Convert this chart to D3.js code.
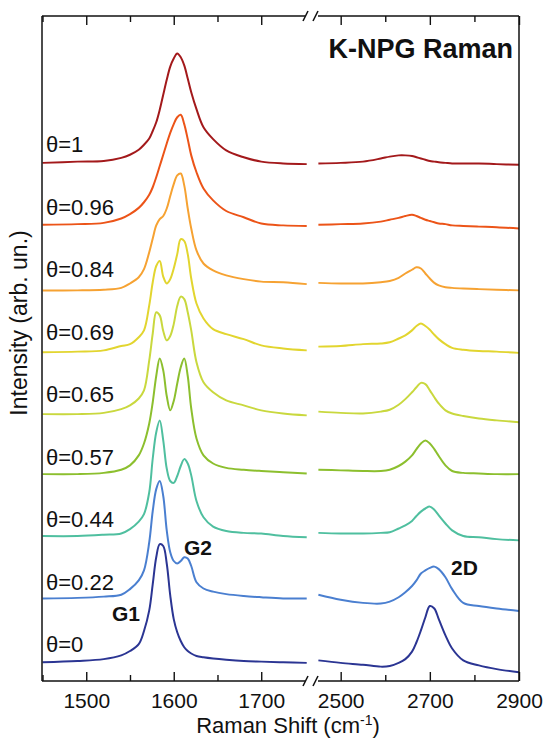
<!DOCTYPE html>
<html>
<head>
<meta charset="utf-8">
<script src="https://cdn.jsdelivr.net/npm/d3@7"></script>
<style>
  body { margin: 0; background: #fff; }
  svg text { font-family: "Liberation Sans", Arial, sans-serif; fill: #111; }
</style>
</head>
<body>
<svg id="chart" width="546" height="740"></svg>
<script>
/* ---------- Data ---------- */
const thetaLabels = ["θ=0","θ=0.22","θ=0.44","θ=0.57","θ=0.65","θ=0.69","θ=0.84","θ=0.96","θ=1"];
const offsets = [0, 1, 2, 3, 4, 5, 6, 7, 8];
const colors = ["#2b3593","#4a7fd0","#4fbf9f","#8cbf2e","#c9d83e","#e2d52f","#f6a232","#ec5418","#a3191b"];

// G band window (cm-1)
const shiftG = [1450,1490,1520,1540,1550,1560,1566,1572,1576,1580,1584,1588,1592,1596,1600,1604,
                1608,1612,1616,1620,1626,1634,1645,1660,1680,1700,1725,1752];
// 2D band window (cm-1)
const shift2D = [2450,2500,2550,2590,2610,2630,2645,2660,2670,2680,2690,2700,2710,2720,2735,2750,
                 2775,2810,2850,2900];

// intensity above each trace's offset (arb. un.), one row per theta
const gBand = [
  [0,0.02,0.05,0.11,0.18,0.29,0.50,0.83,1.25,1.68,1.89,1.86,1.58,1.07,0.69,0.48,0.34,0.24,0.18,0.14,0.10,0.08,0.06,0.04,0.02,0.01,0,-0.01],
  [0.02,0.03,0.05,0.08,0.17,0.31,0.47,0.92,1.42,1.77,1.90,1.66,1.11,0.76,0.62,0.58,0.62,0.68,0.66,0.54,0.28,0.18,0.13,0.09,0.06,0.04,0.02,0.02],
  [0.02,0.02,0.04,0.06,0.13,0.25,0.37,0.72,1.26,1.68,1.87,1.55,1.10,0.90,0.87,0.98,1.14,1.25,1.18,0.99,0.58,0.32,0.17,0.10,0.07,0.06,0.02,0],
  [0.01,0.01,0.03,0.08,0.15,0.31,0.50,0.82,1.16,1.58,1.86,1.67,1.26,1.03,1.18,1.46,1.72,1.86,1.58,1.06,0.58,0.31,0.18,0.11,0.08,0.06,0.04,0.02],
  [-0.03,-0.03,-0.01,0.05,0.11,0.22,0.35,0.83,1.26,1.60,1.55,1.30,1.15,1.22,1.41,1.70,1.85,1.81,1.60,1.31,0.80,0.48,0.32,0.19,0.11,0.03,-0.02,-0.05],
  [-0.04,-0.03,-0.01,0.06,0.09,0.20,0.31,0.71,1.08,1.34,1.42,1.17,1.06,1.13,1.30,1.53,1.77,1.74,1.53,1.14,0.74,0.50,0.33,0.25,0.17,0.07,0.02,-0.01],
  [-0.05,-0.05,-0.04,-0.01,0.06,0.16,0.29,0.56,0.78,0.99,1.09,1.14,1.26,1.46,1.65,1.79,1.82,1.63,1.26,0.94,0.59,0.38,0.27,0.19,0.13,0.09,0.08,0.05],
  [0,0.01,0.03,0.10,0.17,0.27,0.36,0.48,0.60,0.76,0.94,1.12,1.30,1.47,1.61,1.72,1.76,1.61,1.37,1.11,0.84,0.58,0.39,0.22,0.12,0.02,-0.01,-0.02],
  [-0.01,0.01,0.02,0.07,0.12,0.20,0.28,0.38,0.50,0.64,0.84,1.08,1.32,1.53,1.66,1.74,1.68,1.55,1.34,1.12,0.85,0.56,0.37,0.19,0.08,0.01,-0.02,-0.03]
];
const dBand = [
  [0.03,-0.01,-0.04,-0.07,-0.06,-0.01,0.05,0.17,0.32,0.51,0.72,0.90,0.86,0.69,0.43,0.22,0.03,-0.05,-0.11,-0.16],
  [0.08,0,-0.05,-0.06,-0.03,0.04,0.12,0.22,0.31,0.42,0.47,0.51,0.53,0.49,0.36,0.17,-0.05,-0.10,-0.14,-0.18],
  [0.07,0.06,0.06,0.07,0.08,0.14,0.19,0.26,0.34,0.41,0.46,0.49,0.44,0.35,0.22,0.11,0.02,0,-0.03,-0.05],
  [0.08,0.07,0.06,0.06,0.08,0.14,0.21,0.31,0.41,0.50,0.55,0.50,0.41,0.30,0.15,0.06,0.03,0.02,0.01,0.01],
  [0.01,-0.01,-0.02,0.01,0.04,0.12,0.21,0.32,0.40,0.47,0.45,0.35,0.24,0.14,0.03,-0.02,-0.06,-0.10,-0.13,-0.16],
  [0.05,0.06,0.09,0.10,0.12,0.18,0.23,0.31,0.38,0.42,0.38,0.32,0.24,0.17,0.09,0.03,0,-0.02,-0.03,-0.05],
  [0.07,0.06,0.06,0.08,0.10,0.15,0.22,0.28,0.32,0.30,0.22,0.14,0.07,0.03,0,-0.01,-0.02,-0.03,-0.04,-0.05],
  [0,0.01,0.02,0.05,0.08,0.11,0.14,0.16,0.14,0.11,0.08,0.06,0.04,0.02,0.01,-0.01,-0.02,-0.03,-0.04,-0.06],
  [-0.02,-0.01,0.01,0.06,0.09,0.11,0.11,0.10,0.08,0.06,0.04,0.02,0.01,0,-0.01,-0.02,-0.02,-0.02,-0.03,-0.04]
];

const ticksG = [1500, 1600, 1700], minorG = [1450, 1550, 1650];
const ticks2D = [2500, 2700, 2900], minor2D = [2600, 2800];

/* ---------- Layout ---------- */
const svg = d3.select("#chart");
const frame = { left: 42, right: 519, top: 16, bottom: 681 };
const brk = { a: 307, b: 317 };

const xG = d3.scaleLinear().domain([1450, 1757]).range([42.5, 311.1]);
const xD = d3.scaleLinear().domain([2448, 2900]).range([317.5, 519]);
const y = d3.scaleLinear().domain([-0.3, 10.34]).range([frame.bottom, frame.top]);

/* ---------- Traces ---------- */
const gTraces = svg.append("g");
thetaLabels.forEach((lab, i) => {
  const lineG = d3.line().curve(d3.curveCatmullRom.alpha(0.5))
    .x((d, k) => xG(shiftG[k])).y(d => y(offsets[i] + d));
  const lineD = d3.line().curve(d3.curveCatmullRom.alpha(0.5))
    .x((d, k) => xD(shift2D[k])).y(d => y(offsets[i] + d));
  gTraces.append("path").attr("d", lineG(gBand[i]))
    .attr("fill", "none").attr("stroke", colors[i]).attr("stroke-width", 2).attr("stroke-linejoin", "round");
  gTraces.append("path").attr("d", lineD(dBand[i]))
    .attr("fill", "none").attr("stroke", colors[i]).attr("stroke-width", 2).attr("stroke-linejoin", "round");
  svg.append("text").attr("x", 46).attr("y", y(offsets[i]) - 10)
    .attr("font-size", 22).text(lab);
});

/* ---------- Axes ---------- */
function axisPair(scale, major, minor, side){
  const ax = side === "bottom" ? d3.axisBottom : d3.axisTop;
  const yPos = side === "bottom" ? frame.bottom : frame.top;
  const gM = svg.append("g").attr("transform", `translate(0,${yPos})`)
    .call(ax(scale).tickValues(major).tickSize(-9).tickPadding(12)
      .tickFormat(side === "bottom" ? d3.format("d") : ""));
  const gm = svg.append("g").attr("transform", `translate(0,${yPos})`)
    .call(ax(scale).tickValues(minor).tickSize(-6).tickFormat(""));
  for (const g of [gM, gm]){
    g.select(".domain").remove();
    g.selectAll("line").attr("stroke", "#111").attr("stroke-width", 1.4);
    g.selectAll("text").attr("font-size", 21)
      .attr("font-family", "'Liberation Sans', Arial, sans-serif").attr("fill", "#111");
  }
}
axisPair(xG, ticksG, minorG, "bottom");
axisPair(xD, ticks2D, minor2D, "bottom");
axisPair(xG, ticksG, minorG, "top");
axisPair(xD, ticks2D, minor2D, "top");

// frame with the axis break
const fr = svg.append("g").attr("stroke", "#111").attr("stroke-width", 1.5).attr("fill", "none");
for (const yy of [frame.top, frame.bottom]){
  fr.append("line").attr("x1", frame.left).attr("x2", brk.a - 2).attr("y1", yy).attr("y2", yy);
  fr.append("line").attr("x1", brk.b + 1).attr("x2", frame.right).attr("y1", yy).attr("y2", yy);
  fr.append("line").attr("x1", brk.a - 4).attr("x2", brk.a + 1).attr("y1", yy + 5).attr("y2", yy - 5);
  fr.append("line").attr("x1", brk.b - 4).attr("x2", brk.b + 1).attr("y1", yy + 5).attr("y2", yy - 5);
}
fr.append("line").attr("x1", frame.left).attr("x2", frame.left).attr("y1", frame.top).attr("y2", frame.bottom);
fr.append("line").attr("x1", frame.right).attr("x2", frame.right).attr("y1", frame.top).attr("y2", frame.bottom);

/* ---------- Titles & annotations ---------- */
svg.append("text").attr("x", 288).attr("y", 733)
  .attr("text-anchor", "middle").attr("font-size", 22)
  .html('Raman Shift (cm<tspan dy="-8" font-size="14">-1</tspan><tspan dy="8">)</tspan>');
svg.append("text").attr("transform", "translate(27,323) rotate(-90)")
  .attr("text-anchor", "middle").attr("font-size", 23).text("Intensity (arb. un.)");
svg.append("text").attr("x", 513).attr("y", 58).attr("text-anchor", "end")
  .attr("font-size", 27).attr("font-weight", "bold").text("K-NPG Raman");
svg.append("text").attr("x", 112).attr("y", 621).attr("font-size", 21).attr("font-weight", "bold").text("G1");
svg.append("text").attr("x", 184).attr("y", 555).attr("font-size", 21).attr("font-weight", "bold").text("G2");
svg.append("text").attr("x", 451).attr("y", 575).attr("font-size", 21).attr("font-weight", "bold").text("2D");
</script>
</body>
</html>
